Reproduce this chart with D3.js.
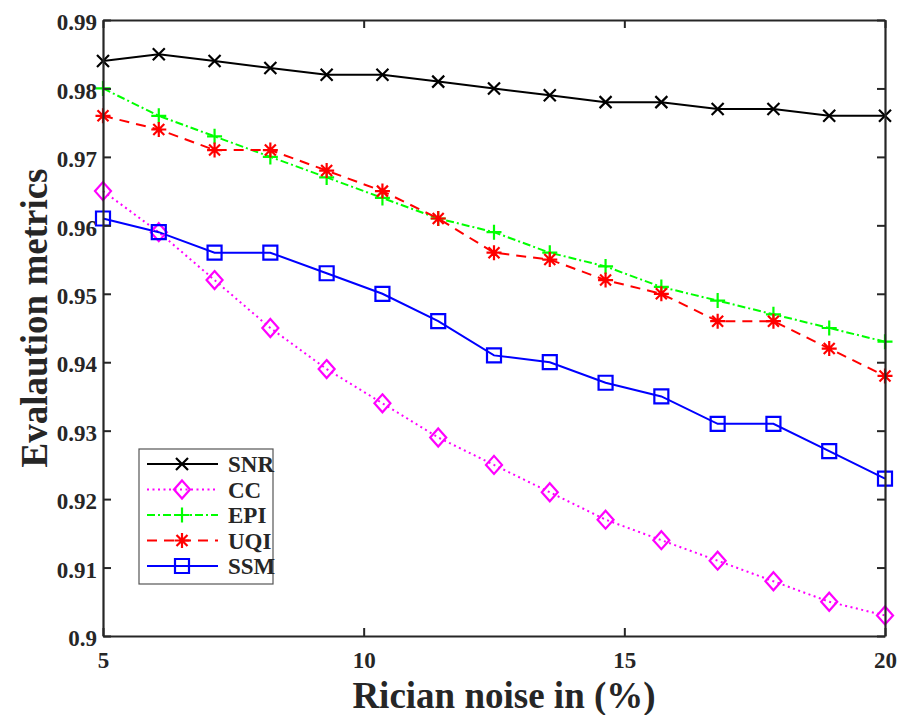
<!DOCTYPE html>
<html>
<head lang="en">
    <meta charset="UTF-8">
    <title>Evaluation metrics vs Rician noise</title>
    <script src="https://cdnjs.cloudflare.com/ajax/libs/d3/7.8.5/d3.min.js"></script>
    <style>
        body { margin: 0; background: #fff; }
        text { font-family: "Liberation Serif", "Times New Roman", serif; font-weight: bold; fill: #262626; }
    </style>
</head>
<body>
<script>

    // noise levels (%), 15 samples between 5 and 20
    var noise = [5, 6.07, 7.14, 8.21, 9.29, 10.36, 11.43, 12.5, 13.57, 14.64, 15.71, 16.79, 17.86, 18.93, 20];

    var snr = [0.984, 0.985, 0.984, 0.983, 0.982, 0.982, 0.981, 0.980, 0.979, 0.978, 0.978, 0.977, 0.977, 0.976, 0.976];
    var cc  = [0.965, 0.959, 0.952, 0.945, 0.939, 0.934, 0.929, 0.925, 0.921, 0.917, 0.914, 0.911, 0.908, 0.905, 0.903];
    var epi = [0.980, 0.976, 0.973, 0.970, 0.967, 0.964, 0.961, 0.959, 0.956, 0.954, 0.951, 0.949, 0.947, 0.945, 0.943];
    var uqi = [0.976, 0.974, 0.971, 0.971, 0.968, 0.965, 0.961, 0.956, 0.955, 0.952, 0.950, 0.946, 0.946, 0.942, 0.938];
    var ssm = [0.961, 0.959, 0.956, 0.956, 0.953, 0.950, 0.946, 0.941, 0.940, 0.937, 0.935, 0.931, 0.931, 0.927, 0.923];

    var xTicks = [5, 10, 15, 20];
    var yTicks = [0.90, 0.91, 0.92, 0.93, 0.94, 0.95, 0.96, 0.97, 0.98, 0.99];
    var yTickLabels = ["0.9", "0.91", "0.92", "0.93", "0.94", "0.95", "0.96", "0.97", "0.98", "0.99"];

    var series = [
        {name: "SNR", values: snr, color: "#000000", dash: null,         marker: "x"},
        {name: "CC",  values: cc,  color: "#ff00ff", dash: "2,3.5",      marker: "diamond"},
        {name: "EPI", values: epi, color: "#00ff00", dash: "8,3,2,3",    marker: "plus"},
        {name: "UQI", values: uqi, color: "#ff0000", dash: "10,7",       marker: "star"},
        {name: "SSM", values: ssm, color: "#0000ff", dash: null,         marker: "square"}
    ];

    var width = 901,
        height = 715,
        margin = {top: 20, right: 16, bottom: 79, left: 103};

    var w = width - margin.left - margin.right,
        h = height - margin.top - margin.bottom;

    var svg = d3.select("body").append("svg")
        .attr("width", width)
        .attr("height", height);

    var g = svg.append("g")
        .attr("transform", "translate(" + margin.left + "," + margin.top + ")");

    var x = d3.scaleLinear().domain([5, 20]).range([0, w]);
    var y = d3.scaleLinear().domain([0.9, 0.99]).range([h, 0]);

    // marker shapes
    function markerPath(type) {
        switch (type) {
            case "x":       return "M-6,-6L6,6M-6,6L6,-6";
            case "plus":    return "M-7.5,0L7.5,0M0,-7.5L0,7.5";
            case "diamond": return "M0,-9L8,0L0,9L-8,0Z";
            case "square":  return "M-7,-7L7,-7L7,7L-7,7Z";
            case "star":    return "M-7.5,0L7.5,0M0,-7.5L0,7.5M-5.5,-5.5L5.5,5.5M-5.5,5.5L5.5,-5.5";
        }
    }

    // lines
    var line = d3.line()
        .x(function(d, i) { return x(noise[i]); })
        .y(function(d) { return y(d); });

    series.forEach(function(s) {
        g.append("path")
            .datum(s.values)
            .attr("fill", "none")
            .attr("stroke", s.color)
            .attr("stroke-width", 2)
            .attr("stroke-dasharray", s.dash)
            .attr("d", line);
    });

    series.forEach(function(s) {
        g.selectAll(null)
            .data(s.values)
            .enter().append("path")
            .attr("transform", function(d, i) { return "translate(" + x(noise[i]) + "," + y(d) + ")"; })
            .attr("d", markerPath(s.marker))
            .attr("fill", "none")
            .attr("stroke", s.color)
            .attr("stroke-width", 2.2);
    });

    // axes, ticks pointing inward on all four sides
    var axisColor = "#262626";

    var axBottom = g.append("g").attr("transform", "translate(0," + h + ")")
        .call(d3.axisBottom(x).tickValues(xTicks).tickSizeInner(-8).tickSizeOuter(0).tickPadding(16));
    var axTop = g.append("g")
        .call(d3.axisTop(x).tickValues(xTicks).tickSizeInner(-8).tickSizeOuter(0).tickFormat(""));
    var axLeft = g.append("g")
        .call(d3.axisLeft(y).tickValues(yTicks).tickSizeInner(-8).tickSizeOuter(0).tickPadding(6)
            .tickFormat(function(d, i) { return yTickLabels[i]; }));
    var axRight = g.append("g").attr("transform", "translate(" + w + ",0)")
        .call(d3.axisRight(y).tickValues(yTicks).tickSizeInner(-8).tickSizeOuter(0).tickFormat(""));

    [axBottom, axTop, axLeft, axRight].forEach(function(a) {
        a.select(".domain").attr("stroke", axisColor).attr("stroke-width", 2.2);
        a.selectAll(".tick line").attr("stroke", axisColor).attr("stroke-width", 2);
        a.selectAll(".tick text")
            .style("font-family", '"Liberation Serif", "Times New Roman", serif')
            .style("font-weight", "bold")
            .style("font-size", "23px")
            .attr("fill", axisColor);
    });
    axLeft.selectAll(".tick text").attr("dy", "0.42em");

    // axis titles
    svg.append("text")
        .attr("x", 504)
        .attr("y", 708)
        .attr("text-anchor", "middle")
        .style("font-size", "37px")
        .text("Rician noise in (%)");

    svg.append("text")
        .attr("transform", "translate(47,318) rotate(-90)")
        .attr("text-anchor", "middle")
        .style("font-size", "37px")
        .text("Evalaution metrics");

    // legend
    var legend = svg.append("g").attr("transform", "translate(139,449)");
    legend.append("rect")
        .attr("width", 134)
        .attr("height", 135)
        .attr("fill", "#fff")
        .attr("stroke", "#555")
        .attr("stroke-width", 1.2);

    var item = legend.selectAll(".item")
        .data(series)
        .enter().append("g")
        .attr("transform", function(d, i) { return "translate(0," + (15 + i * 25.5) + ")"; });

    item.append("line")
        .attr("x1", 8).attr("x2", 79)
        .attr("stroke", function(d) { return d.color; })
        .attr("stroke-width", 2)
        .attr("stroke-dasharray", function(d) { return d.dash; });
    item.append("path")
        .attr("transform", "translate(43,0)")
        .attr("d", function(d) { return markerPath(d.marker); })
        .attr("fill", "none")
        .attr("stroke", function(d) { return d.color; })
        .attr("stroke-width", 2.2);
    item.append("text")
        .attr("x", 89)
        .attr("dy", "0.36em")
        .style("font-size", "23px")
        .text(function(d) { return d.name; });

</script>
</body>
</html>
